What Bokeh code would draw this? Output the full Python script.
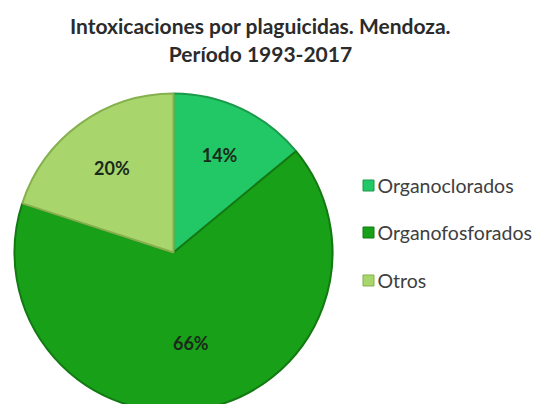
import numpy as np
from bokeh.plotting import figure
from bokeh.models import Range1d
from bokeh.core.properties import value
from bokeh.embed import file_html
from bokeh.resources import INLINE

categories = ["Organoclorados", "Organofosforados", "Otros"]
percent = [14, 66, 20]
colors = ["#22c866", "#18a018", "#a8d66c"]
line_colors = ["#1a9a4a", "#137a13", "#86b04e"]
title_lines = ["Intoxicaciones por plaguicidas. Mendoza.", "Período 1993-2017"]

W, H = 537, 404
p = figure(width=W, height=H, output_backend="svg", toolbar_location=None,
           x_range=Range1d(0, W), y_range=Range1d(412 - H, 412),
           min_border=0, outline_line_color=None)
p.axis.visible = False
p.grid.visible = False
p.background_fill_color = "white"

cx, cy, R = 173, 412 - 252, 159
vals = np.array(percent, dtype=float)
frac = vals / vals.sum()
cum = np.concatenate([[0], np.cumsum(frac)])
start = np.pi / 2 - 2 * np.pi * cum[:-1]
end = np.pi / 2 - 2 * np.pi * cum[1:]
p.wedge(x=cx, y=cy, radius=R, start_angle=start, end_angle=end, direction="clock",
        fill_color=colors, line_color=line_colors, line_width=2)

mid = (start + end) / 2
rf = [0.68, 0.58, 0.66]
lx = cx + np.array(rf) * R * np.cos(mid)
ly = cy + np.array(rf) * R * np.sin(mid)
p.text(x=lx, y=ly, text=[f"{v}%" for v in percent], text_align="center",
       text_baseline="middle", text_font=value("Lato"), text_font_style="bold",
       text_font_size="18px", text_color="#1a2a1a")

# title
p.text(x=[260, 260], y=[412 - 25, 412 - 53], text=title_lines, text_align="center",
       text_baseline="middle", text_font=value("Lato"), text_font_style="bold",
       text_font_size="21px", text_color="#2b2b2b")

# legend
leg_y = [412 - 185, 412 - 232, 412 - 280]
p.scatter(x=[368] * 3, y=leg_y, marker="square", size=11, fill_color=colors,
          line_color=line_colors, line_width=1)
p.text(x=[377] * 3, y=leg_y, text=categories, text_align="left", text_baseline="middle",
       text_font=value("Lato"), text_font_size="19.5px", text_color="#404040")

open("out.html", "w").write(file_html(p, INLINE))
